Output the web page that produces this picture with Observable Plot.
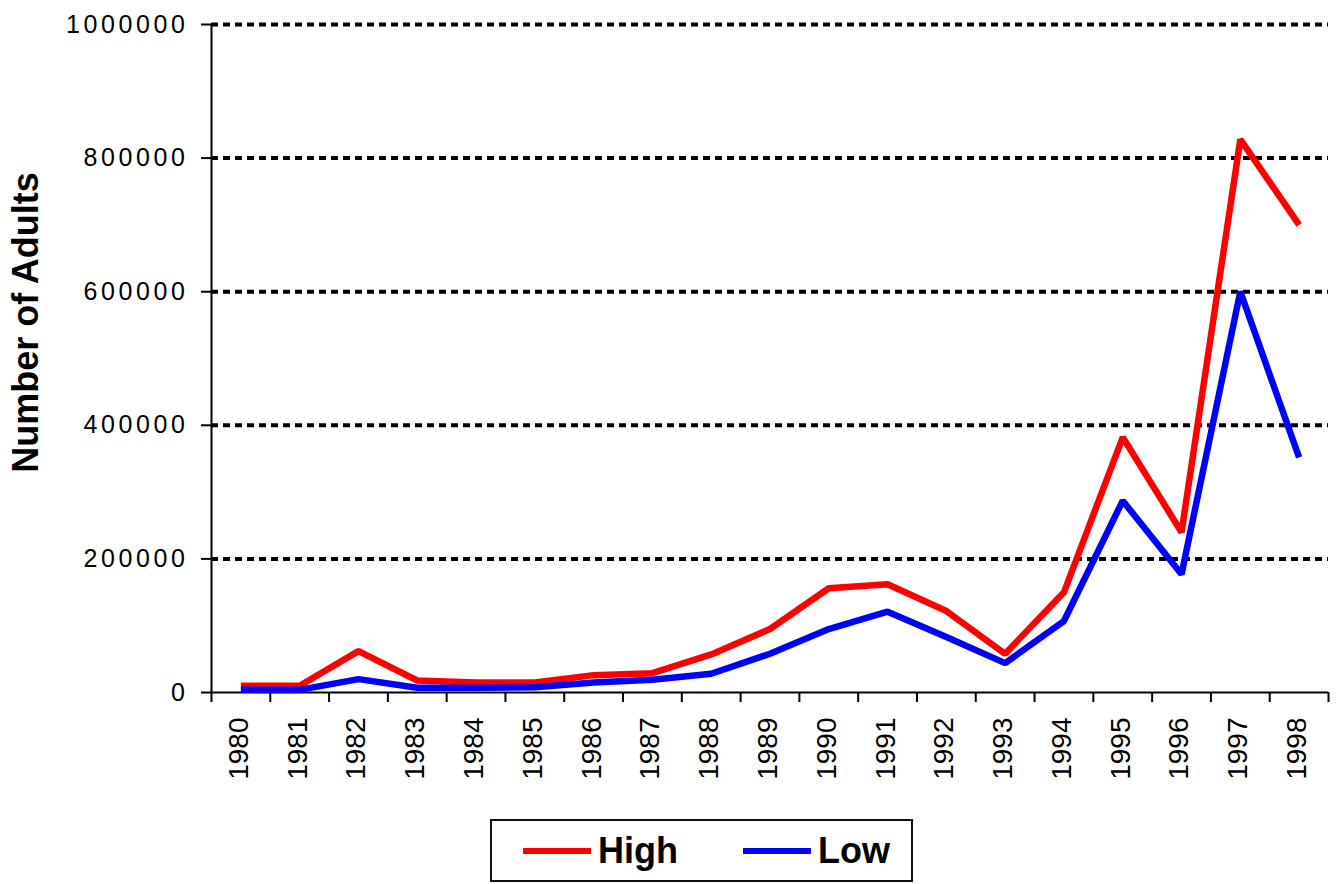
<!DOCTYPE html>
<html>
<head>
<meta charset="utf-8">
<script src="https://cdn.jsdelivr.net/npm/d3@7"></script>
<script src="https://cdn.jsdelivr.net/npm/@observablehq/plot@0.6"></script>
<style>
  body { margin: 0; background: #fff; font-family: "Liberation Sans", Arial, sans-serif; }
  #wrap { position: relative; width: 1338px; height: 884px; overflow: hidden; }
  g[aria-label="y-axis tick label"] text { letter-spacing: 3.6px; }
  g[aria-label="year labels"] text { letter-spacing: -1px; }
  g[aria-label="y title"] text { letter-spacing: 2px; }
  #legend {
    position: absolute; left: 490px; top: 819px; width: 423px; height: 63px;
    box-sizing: border-box; border: 2px solid #111; background: #fff;
    display: flex; align-items: center; padding-left: 31px;
  }
  .item { display: flex; align-items: center; width: 220px; flex-shrink: 0; }
  .swatch { width: 68px; height: 6px; margin-right: 7px; flex-shrink: 0; }
  .lbl { font-weight: bold; font-size: 36px; color: #000; line-height: 1; }
</style>
</head>
<body>
<div id="wrap">
  <div id="chart"></div>
  <div id="legend"></div>
</div>
<script>
const years = [1980, 1981, 1982, 1983, 1984, 1985, 1986, 1987, 1988, 1989,
               1990, 1991, 1992, 1993, 1994, 1995, 1996, 1997, 1998];
const high = [10000, 10000, 62000, 18000, 15000, 15000, 26000, 29000, 57000, 95000,
              156000, 162000, 122000, 58000, 150000, 382000, 240000, 828000, 700000];
const low = [4000, 4000, 20000, 7000, 7000, 8000, 15000, 19000, 28000, 58000,
             95000, 121000, 83000, 44000, 107000, 287000, 177000, 600000, 352000];
const seriesNames = ["High", "Low"];
const seriesColors = ["#ff0000", "#0000ff"];
const yTicks = [0, 200000, 400000, 600000, 800000, 1000000];
const yTitle = "Number of Adults";

const rows = years.flatMap((yr, i) => [
  {year: yr, value: high[i], series: seriesNames[0]},
  {year: yr, value: low[i], series: seriesNames[1]}
]);
const bounds = [years[0] - 0.5, ...years.map(y => y + 0.5)];

const chart = Plot.plot({
  width: 1338,
  height: 800,
  marginLeft: 211,
  marginRight: 10,
  marginTop: 24,
  marginBottom: 108,
  style: {fontFamily: '"Liberation Sans", Arial, sans-serif', background: "#fff", color: "#000"},
  x: {type: "linear", domain: [bounds[0], bounds[bounds.length - 1]], axis: null, label: null},
  y: {domain: [0, 1000000], axis: null, label: null},
  color: {domain: seriesNames, range: seriesColors},
  marks: [
    Plot.ruleY(yTicks.filter(d => d > 0), {stroke: "#000", strokeWidth: 4, strokeDasharray: "7,5"}),
    Plot.axisX(bounds, {tickSize: 10, tickFormat: () => "", strokeWidth: 2, stroke: "#000", label: null}),
    Plot.axisY(yTicks, {tickSize: 10, tickPadding: 13, tickFormat: d => String(d), fontSize: 25, strokeWidth: 2, stroke: "#000", fill: "#000", label: null}),
    Plot.ruleY([0], {stroke: "#000", strokeWidth: 2}),
    Plot.ruleX([bounds[0]], {stroke: "#000", strokeWidth: 2}),
    Plot.line(rows, {x: "year", y: "value", z: "series", stroke: "series", strokeWidth: 6.5, strokeLinejoin: "miter", strokeLinecap: "butt"}),
    Plot.text(years, {x: d => d, frameAnchor: "bottom", dy: 25, dx: -2, rotate: -90, textAnchor: "end", lineAnchor: "middle", fontSize: 28, fill: "#000", text: d => String(d), ariaLabel: "year labels"}),
    Plot.text([yTitle], {frameAnchor: "left", dx: -185, dy: -36, rotate: -90, textAnchor: "middle", lineAnchor: "middle", fontSize: 36, fontWeight: "bold", fill: "#000", text: d => d, ariaLabel: "y title"})
  ]
});
document.getElementById("chart").append(chart);

const legend = document.getElementById("legend");
seriesNames.forEach((name, i) => {
  const item = document.createElement("div");
  item.className = "item";
  const sw = document.createElement("div");
  sw.className = "swatch";
  sw.style.background = seriesColors[i];
  const lb = document.createElement("span");
  lb.className = "lbl";
  lb.textContent = name;
  item.append(sw, lb);
  legend.append(item);
});
</script>
</body>
</html>
